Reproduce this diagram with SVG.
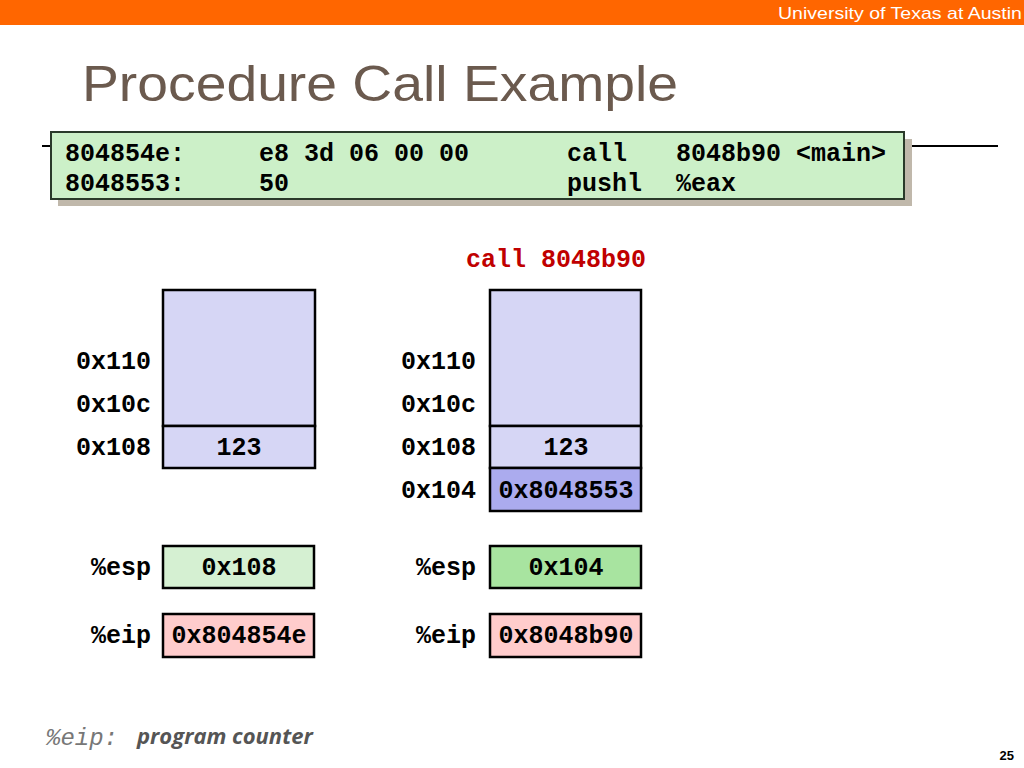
<svg xmlns="http://www.w3.org/2000/svg" width="1024" height="768" viewBox="0 0 1024 768">
<style>
.mono{font-family:"Liberation Mono","Courier New",monospace;font-weight:bold;font-size:25px;fill:#000}
.cell{stroke:#000;stroke-width:2.5}
.mid{text-anchor:middle}
.end{text-anchor:end}
</style>
<rect x="0" y="0" width="1024" height="766" fill="#fff"/>
<rect x="0" y="0" width="1024" height="25" fill="#ff6600"/>
<text x="778" y="19" font-family="Liberation Sans, Arial, sans-serif" font-size="17" fill="#fff" textLength="244" lengthAdjust="spacingAndGlyphs">University of Texas at Austin</text>
<text x="82" y="101" font-family="Liberation Sans, Arial, sans-serif" font-size="50" fill="#6b5a4e" textLength="596" lengthAdjust="spacingAndGlyphs">Procedure Call Example</text>
<line x1="42" y1="146" x2="998" y2="146" stroke="#000" stroke-width="2"/>
<g id="code">
<rect x="58" y="139" width="854" height="67" fill="#c0b8ab"/>
<rect x="51" y="132" width="853" height="67" fill="#ccf0c8" stroke="#2a3a2a" stroke-width="2"/>
<text class="mono" x="65" y="161">804854e:</text>
<text class="mono" x="259" y="161">e8 3d 06 00 00</text>
<text class="mono" x="567" y="161">call</text>
<text class="mono" x="676" y="161">8048b90 &lt;main&gt;</text>
<text class="mono" x="65" y="191">8048553:</text>
<text class="mono" x="259" y="191">50</text>
<text class="mono" x="567" y="191">pushl</text>
<text class="mono" x="676" y="191">%eax</text>
</g>
<text class="mono" x="466" y="267" style="fill:#c00000">call 8048b90</text>
<g id="stack-before">
<rect class="cell" x="163" y="290" width="152" height="136" fill="#d6d6f5"/>
<rect class="cell" x="163" y="426" width="152" height="42" fill="#d6d6f5"/>
<text class="mono mid" x="239" y="455">123</text>
<text class="mono end" x="151" y="369">0x110</text>
<text class="mono end" x="151" y="412">0x10c</text>
<text class="mono end" x="151" y="455">0x108</text>
</g>
<g id="stack-after">
<rect class="cell" x="490" y="290" width="151" height="136" fill="#d6d6f5"/>
<rect class="cell" x="490" y="426" width="151" height="42" fill="#d6d6f5"/>
<rect class="cell" x="490" y="468" width="151" height="43" fill="#ababee"/>
<text class="mono mid" x="566" y="455">123</text>
<text class="mono mid" x="566" y="498">0x8048553</text>
<text class="mono end" x="476" y="369">0x110</text>
<text class="mono end" x="476" y="412">0x10c</text>
<text class="mono end" x="476" y="455">0x108</text>
<text class="mono end" x="476" y="498">0x104</text>
</g>
<g id="esp-before">
<text class="mono end" x="151" y="575">%esp</text>
<rect class="cell" x="163" y="546" width="151" height="42" fill="#d5f0d2"/>
<text class="mono mid" x="239" y="575">0x108</text>
</g>
<g id="eip-before">
<text class="mono end" x="151" y="643">%eip</text>
<rect class="cell" x="163" y="614" width="151" height="43" fill="#ffcccc"/>
<text class="mono mid" x="239" y="643">0x804854e</text>
</g>
<g id="esp-after">
<text class="mono end" x="476" y="575">%esp</text>
<rect class="cell" x="490" y="546" width="151" height="42" fill="#a8e4a0"/>
<text class="mono mid" x="566" y="575">0x104</text>
</g>
<g id="eip-after">
<text class="mono end" x="476" y="643">%eip</text>
<rect class="cell" x="490" y="614" width="151" height="43" fill="#ffcccc"/>
<text class="mono mid" x="566" y="643">0x8048b90</text>
</g>
<g id="connectors"/>
<text x="46" y="745" font-family="Liberation Mono, Courier New, monospace" font-style="italic" font-size="24" fill="#777">%eip:</text>
<text x="137" y="744" font-family="Open Sans, Liberation Sans, sans-serif" font-style="italic" font-weight="bold" font-size="22" fill="#555">program counter</text>
<text x="1014" y="760" font-family="Liberation Sans, sans-serif" font-weight="bold" font-size="13" fill="#000" text-anchor="end">25</text>
</svg>
